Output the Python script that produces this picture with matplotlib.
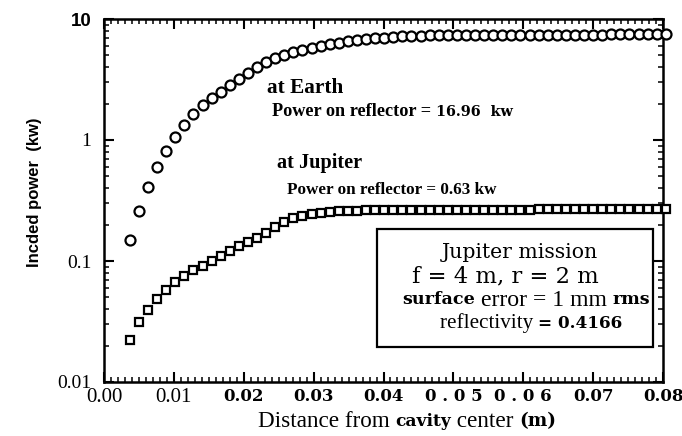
import matplotlib
matplotlib.use('Agg')
import matplotlib.pyplot as plt
from matplotlib.ticker import MultipleLocator, LogLocator, NullFormatter

# ---------------- data ----------------
distance_m = [0.0037, 0.0050, 0.0063, 0.0076, 0.0089, 0.0102, 0.0115, 0.0128, 0.0141, 0.0154,
              0.0167, 0.0180, 0.0193, 0.0206, 0.0219, 0.0232, 0.0245, 0.0258, 0.0271, 0.0284,
              0.0297, 0.0310, 0.0323, 0.0336, 0.0349, 0.0362, 0.0375, 0.0388, 0.0401, 0.0414,
              0.0427, 0.0440, 0.0453, 0.0466, 0.0479, 0.0492, 0.0505, 0.0518, 0.0531, 0.0544,
              0.0557, 0.0570, 0.0583, 0.0596, 0.0609, 0.0622, 0.0635, 0.0648, 0.0661, 0.0674,
              0.0687, 0.0700, 0.0713, 0.0726, 0.0739, 0.0752, 0.0765, 0.0778, 0.0791, 0.0804]

power_earth_kw = [0.149, 0.259, 0.409, 0.598, 0.811, 1.06, 1.33, 1.64, 1.95, 2.22,
                  2.49, 2.85, 3.19, 3.58, 4.01, 4.41, 4.76, 5.04, 5.33, 5.54,
                  5.76, 5.98, 6.21, 6.34, 6.58, 6.70, 6.83, 6.97, 7.02, 7.10,
                  7.18, 7.24, 7.30, 7.33, 7.36, 7.38, 7.39, 7.40, 7.40, 7.41,
                  7.41, 7.42, 7.42, 7.42, 7.43, 7.43, 7.43, 7.43, 7.44, 7.44,
                  7.44, 7.44, 7.44, 7.45, 7.45, 7.45, 7.45, 7.45, 7.45, 7.45]

power_jupiter_kw = [0.0222, 0.0313, 0.0394, 0.0486, 0.0575, 0.067, 0.075, 0.0843, 0.091, 0.100,
                    0.110, 0.121, 0.133, 0.144, 0.155, 0.170, 0.191, 0.210, 0.226, 0.235,
                    0.245, 0.249, 0.254, 0.257, 0.259, 0.261, 0.262, 0.263, 0.264, 0.264,
                    0.264, 0.265, 0.265, 0.265, 0.265, 0.265, 0.266, 0.266, 0.266, 0.266,
                    0.266, 0.266, 0.266, 0.266, 0.266, 0.267, 0.267, 0.267, 0.267, 0.267,
                    0.267, 0.267, 0.267, 0.267, 0.267, 0.267, 0.267, 0.267, 0.267, 0.267]

x_tick_values = [0.00, 0.01, 0.02, 0.03, 0.04, 0.05, 0.06, 0.07, 0.08]
x_tick_labels = ["0.00", "0.01", "0.02", "0.03", "0.04", "0 . 0 5", "0 . 0 6", "0.07", "0.08"]
y_tick_values = [0.01, 0.1, 1, 10]
y_tick_labels = ["0.01", "0.1", "1", "10"]

# ---------------- figure ----------------
W, H = 682, 436
fig = plt.figure(figsize=(W / 100, H / 100), dpi=100)
L, R, T, B = 104, 663, 19, 382
ax = fig.add_axes([L / W, 1 - B / H, (R - L) / W, (B - T) / H])

ax.set_yscale('log')
ax.set_xlim(0, 0.08)
ax.set_ylim(0.01, 10)

ax.plot(distance_m, power_earth_kw, 'o', mfc='white', mec='black', ms=7.2, mew=1.6,
        clip_on=False, zorder=3)
ax.plot(distance_m, power_jupiter_kw, 's', mfc='white', mec='black', ms=5.8, mew=1.6,
        clip_on=False, zorder=3)

for s in ax.spines.values():
    s.set_linewidth(1.8)

ax.set_xticks(x_tick_values)
ax.set_xticklabels(x_tick_labels)
ax.xaxis.set_minor_locator(MultipleLocator(0.001))
ax.set_yticks(y_tick_values)
ax.set_yticklabels(y_tick_labels)
ax.yaxis.set_minor_locator(LogLocator(base=10, subs=[2, 3, 4, 5, 6, 7, 8, 9]))
ax.yaxis.set_minor_formatter(NullFormatter())

ax.tick_params(which='both', direction='in', top=True, right=True, color='black')
ax.tick_params(which='major', length=7, width=1.5)
ax.tick_params(which='minor', length=3.5, width=1.1)
ax.tick_params(axis='y', which='major', pad=9)
ax.tick_params(axis='x', which='major', pad=4)

for i, lab in enumerate(ax.get_xticklabels()):
    if i < 2:
        lab.set_fontfamily('Liberation Serif')
        lab.set_fontsize(15)
    else:
        lab.set_fontfamily('DejaVu Serif')
        lab.set_fontweight('bold')
        lab.set_fontsize(12)
for lab in ax.get_yticklabels():
    if lab.get_text() == "10":
        lab.set_fontfamily('Liberation Sans')
        lab.set_fontweight('bold')
        lab.set_fontsize(13.5)
    else:
        lab.set_fontfamily('Liberation Serif')
        lab.set_fontsize(14)

renderer = fig.canvas.get_renderer()


def text_line(pieces, x0, yc, x1=None):
    """pieces: list of (string, family, weight, size); pixel coords."""
    scale = 1.0
    for attempt in range(3):
        texts = []
        x = x0
        for s, fam, wt, size in pieces:
            t = fig.text(x / W, 1 - yc / H, s, ha='left', va='center',
                         family=fam, weight=wt, fontsize=size * scale)
            w = t.get_window_extent(renderer).width
            texts.append(t)
            x += w
        if x1 is None or attempt == 2:
            return texts
        total = x - x0
        for t in texts:
            t.remove()
        scale *= (x1 - x0) / total


SLAB = 'DejaVu Serif'
SER = 'Liberation Serif'

# annotations
text_line([("at Earth", SER, 'bold', 14)], 267, 88, 343)
text_line([("Power on reflector = ", SER, 'bold', 14),
           ("16.96  kw", SLAB, 'bold', 11)], 272, 112, 513)
text_line([("at Jupiter", SER, 'bold', 14)], 277, 163, 362)
text_line([("Power on reflector = 0.63 kw", SER, 'bold', 14)], 287, 190, 496)

# info box
fig.add_artist(plt.Rectangle((377 / W, 1 - 347 / H), (653 - 377) / W, (347 - 229) / H,
                             transform=fig.transFigure, fill=True, facecolor='white',
                             edgecolor='black', linewidth=1.6, zorder=4))
t1 = text_line([("Jupiter mission", SLAB, 'normal', 13)], 442, 253, 598)
t2 = text_line([("f = 4 m, r = 2 m", SLAB, 'normal', 14)], 412, 276, 598)
t3 = text_line([("surface", SLAB, 'bold', 11), (" error = 1 mm ", SER, 'normal', 15),
                ("rms", SLAB, 'bold', 11)], 402, 300, 651)
t4 = text_line([("reflectivity ", SER, 'normal', 15), ("= 0.4166", SLAB, 'bold', 12)],
               440, 323, 623)
for grp in (t1, t2, t3, t4):
    for t in grp:
        t.set_zorder(5)

# axis labels
fig.text(35 / W, 1 - 192 / H, "Incded power  (kw)", rotation=90, ha='center', va='center',
         family='Liberation Sans', weight='bold', fontsize=12)
text_line([("Distance from ", SER, 'normal', 15), ("cavity", SLAB, 'bold', 11),
           (" center ", SER, 'normal', 15), ("(m)", SLAB, 'bold', 12)], 258, 421, 557)

fig.savefig('out.png', dpi=100)
